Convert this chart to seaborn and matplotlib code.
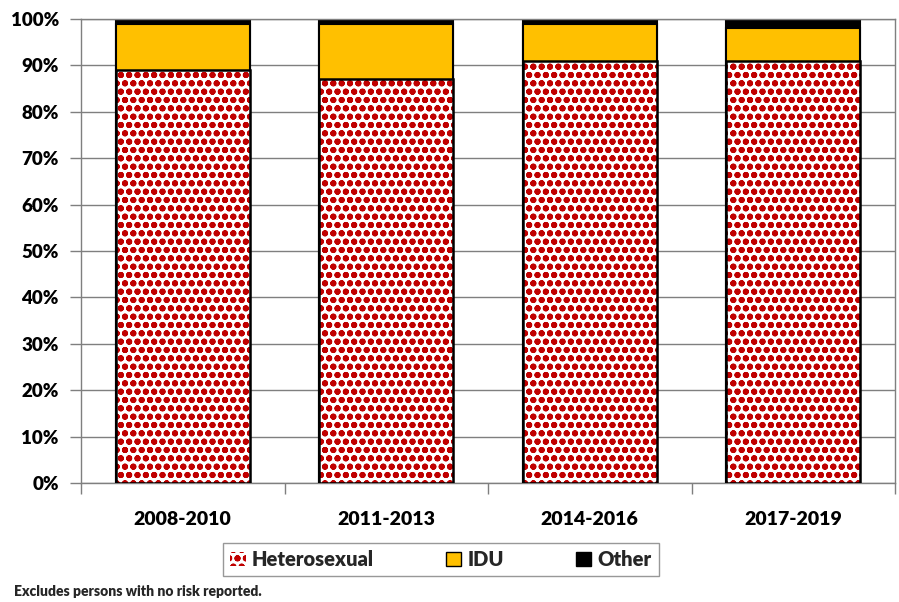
import matplotlib
matplotlib.use("Agg")
import matplotlib.pyplot as plt
import seaborn as sns
import pandas as pd
import numpy as np
from matplotlib.patches import Patch

categories = ["2008-2010", "2011-2013", "2014-2016", "2017-2019"]
heterosexual = [89, 87, 91, 91]
idu = [10, 12, 8, 7]
other = [1, 1, 1, 2]
series_names = ["Heterosexual", "IDU", "Other"]
ytick_values = [0, 10, 20, 30, 40, 50, 60, 70, 80, 90, 100]
footnote = "Excludes persons with no risk reported."

RED = "#C00000"
YELLOW = "#FFC000"
BLACK = "#000000"
GRID = "#7F7F7F"
WEIGHT = "heavy"

sns.set_theme(style="white")
plt.rcParams["font.family"] = ["Lato", "DejaVu Sans"]
plt.rcParams["font.weight"] = WEIGHT
plt.rcParams["hatch.linewidth"] = 2.0

df = pd.DataFrame({
    "period": categories,
    "het": heterosexual,
    "idu": idu,
    "other": other,
})
df["top_idu"] = df["het"] + df["idu"]
df["top_other"] = df["top_idu"] + df["other"]

fig = plt.figure(figsize=(8.99, 6.02), dpi=100)
ax = fig.add_axes([81 / 899, 1 - 483 / 602, (895 - 81) / 899, (483 - 19) / 602])

W = 0.66
sns.barplot(data=df, x="period", y="top_other", color=BLACK, width=W,
            edgecolor=BLACK, linewidth=1.5, saturation=1, ax=ax, zorder=2)
sns.barplot(data=df, x="period", y="top_idu", color=YELLOW, width=W,
            edgecolor=BLACK, linewidth=1.5, saturation=1, ax=ax, zorder=3)
n_before = len(ax.patches)
sns.barplot(data=df, x="period", y="het", color="white", width=W,
            edgecolor=RED, linewidth=0, saturation=1, ax=ax, zorder=4)
for p in ax.patches[n_before:]:
    p.set_hatch("oo..")
    p.set_facecolor("white")
    p.set_edgecolor(RED)
    p.set_linewidth(0)
sns.barplot(data=df, x="period", y="het", width=W, fill=False,
            edgecolor=BLACK, linewidth=1.8, ax=ax, zorder=5)

ax.set_xlim(-0.5, len(categories) - 0.5)
ax.set_ylim(0, 100)
ax.set_yticks(ytick_values)
ax.set_yticklabels([f"{v}%" for v in ytick_values])
ax.yaxis.grid(True, color=GRID, linewidth=1.0, zorder=0)
ax.set_axisbelow(True)
for s in ax.spines.values():
    s.set_visible(True)
    s.set_color(GRID)
    s.set_linewidth(1.0)

ax.tick_params(axis="y", which="major", length=8, width=1.0, color=GRID,
               labelsize=13.5, pad=8, left=True, labelcolor="black")
ax.set_xticks(range(len(categories)))
ax.set_xticklabels(categories)
ax.tick_params(axis="x", which="major", length=0, labelsize=14, pad=20,
               labelcolor="black")
ax.set_xticks(np.arange(-0.5, len(categories), 1.0), minor=True)
ax.tick_params(axis="x", which="minor", length=8, width=1.0, color=GRID,
               bottom=True)
ax.set_xlabel("")
ax.set_ylabel("")

handles = [
    Patch(facecolor="white", edgecolor=RED, hatch="oo..", linewidth=0),
    Patch(facecolor=YELLOW, edgecolor=BLACK, linewidth=1.0),
    Patch(facecolor=BLACK, edgecolor=BLACK, linewidth=1.0),
]
leg = fig.legend(handles, series_names, loc="center", ncol=3,
                 bbox_to_anchor=(441 / 899, 1 - 559.5 / 602),
                 frameon=True, fancybox=False, edgecolor=GRID,
                 fontsize=14.5, handlelength=0.75, handleheight=0.75,
                 handletextpad=0.3, columnspacing=3.6,
                 borderpad=0.35, borderaxespad=0)
leg.get_frame().set_linewidth(1.0)
for t in leg.get_texts():
    t.set_fontweight(WEIGHT)

fig.text(14 / 899, 1 - 591 / 602, footnote, fontsize=10, fontweight=WEIGHT,
         ha="left", va="center")

fig.savefig("out.png", dpi=100)
